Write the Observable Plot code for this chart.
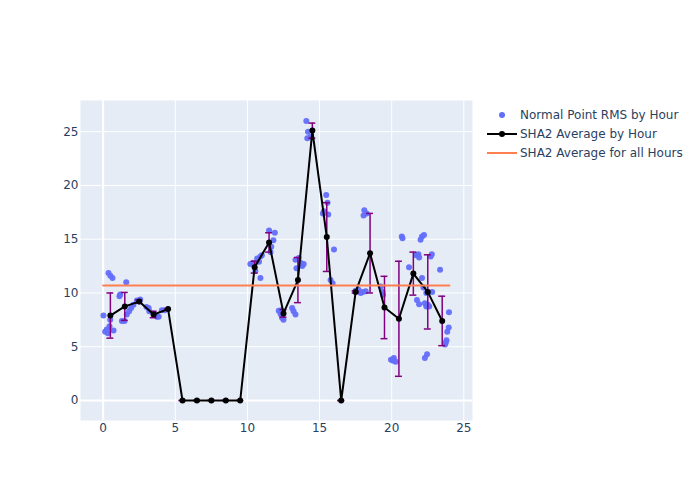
<!DOCTYPE html>
<html>
<head>
<meta charset="utf-8">
<script src="https://cdn.jsdelivr.net/npm/d3@7"></script>
<script src="https://cdn.jsdelivr.net/npm/@observablehq/plot@0.6"></script>
<style>
  html, body { margin: 0; padding: 0; background: white; }
  #wrap { position: relative; width: 700px; height: 500px; font-family: "DejaVu Sans", sans-serif; }
  #legend { position: absolute; left: 484px; top: 105px; }
</style>
</head>
<body>
<div id="wrap"><div id="chart"></div><div id="legend"></div></div>
<script>
// Individual normal point RMS values (hour of day, RMS)
const ptHour = [
  0.02,0.14,0.33,0.44,0.25,0.72,0.49,0.37,0.5,0.65,
  1.13,1.18,1.3,1.48,1.6,1.64,1.8,1.94,2.1,2.34,2.57,2.5,3.0,3.15,3.2,3.5,3.73,3.85,4.07,4.26,
  10.2,10.4,10.67,10.8,10.9,10.55,10.9,11.0,11.5,11.9,11.8,11.65,11.6,
  12.17,12.3,12.4,12.5,12.35,13.1,13.2,13.33,13.33,13.56,13.68,13.8,13.4,13.9,
  14.08,14.2,14.15,14.35,
  15.46,15.23,15.3,15.6,15.55,16.0,15.76,15.9,
  17.5,17.7,17.85,18.0,18.2,18.1,18.26,18.05,
  19.24,19.37,19.4,19.95,20.15,20.28,20.1,20.7,20.75,
  21.2,21.7,21.9,21.85,22.0,22.1,22.24,22.1,22.2,21.75,21.9,22.3,22.4,22.6,22.5,22.8,22.4,22.7,22.78,22.45,22.3,
  23.35,23.97,23.95,23.85,23.8,23.75,23.7
];
const ptRms = [
  7.9,6.4,6.25,6.9,6.6,6.5,7.5,11.85,11.6,11.4,
  9.7,9.85,7.4,7.4,11.0,8.0,8.3,8.6,8.9,9.3,9.4,9.2,8.7,8.6,8.3,8.0,7.8,7.8,8.4,8.4,
  12.7,12.8,13.2,12.9,13.4,12.05,11.4,13.5,15.8,15.6,14.9,14.3,13.8,
  8.35,8.05,7.7,7.5,8.4,8.6,8.3,8.0,13.1,13.25,12.8,12.5,12.3,12.7,
  26.0,25.0,24.4,24.5,
  19.1,17.4,17.6,17.3,18.4,14.05,11.2,10.9,
  10.2,10.3,10.0,10.1,10.15,17.7,17.4,17.2,
  10.6,10.1,9.8,3.8,3.95,3.6,3.7,15.25,15.1,
  12.4,13.5,13.3,13.6,14.95,15.25,15.4,11.4,10.5,9.35,8.95,9.05,8.75,8.75,8.9,10.1,10.0,13.4,13.6,4.3,3.95,
  12.15,8.2,6.8,6.4,5.6,5.4,5.2
];

// Hourly averages with standard deviation
const avgHour = [0.5,1.5,2.5,3.5,4.5,5.5,6.5,7.5,8.5,9.5,10.5,11.5,12.5,13.5,14.5,15.5,16.5,17.5,18.5,19.5,20.5,21.5,22.5,23.5];
const avgVal  = [7.9,8.75,9.2,8.0,8.5,0,0,0,0,0,12.4,14.7,8.1,11.2,25.1,15.2,0,10.1,13.7,8.65,7.6,11.8,10.1,7.4];
const avgStd  = [2.1,1.3,0.15,0.3,0,0,0,0,0,0,0.55,0.9,0.35,2.1,0.7,3.2,0,0.1,3.7,2.9,5.35,2.0,3.45,2.3];

// Overall average across all hours
const overallHours = [0, 24];
const overallValue = 10.7;

const xTicks = [0, 5, 10, 15, 20, 25];
const yTicks = [0, 5, 10, 15, 20, 25];

const points = ptHour.map((h, i) => ({hour: h, rms: ptRms[i]}));
const avgs = avgHour.map((h, i) => ({hour: h, val: avgVal[i], lo: avgVal[i] - avgStd[i], hi: avgVal[i] + avgStd[i]}));
const overall = overallHours.map(h => ({hour: h, val: overallValue}));

const blue = "#636EFA", purple = "#800080", orange = "#FF7F50", ink = "#2a3f5f";

const chart = Plot.plot({
  width: 700,
  height: 500,
  marginLeft: 80,
  marginRight: 228,
  marginTop: 100,
  marginBottom: 80,
  style: {fontFamily: "'DejaVu Sans', sans-serif", fontSize: "12px", color: ink, background: "white", overflow: "visible"},
  x: {domain: [-1.57, 25.6], label: null},
  y: {domain: [-1.86, 27.9], label: null},
  marks: [
    Plot.frame({fill: "#E5ECF6", stroke: null}),
    Plot.gridX(xTicks.filter(t => t !== 0), {stroke: "white", strokeOpacity: 1, strokeWidth: 1}),
    Plot.gridY(yTicks.filter(t => t !== 0), {stroke: "white", strokeOpacity: 1, strokeWidth: 1}),
    Plot.ruleX([0], {stroke: "white", strokeWidth: 2}),
    Plot.ruleY([0], {stroke: "white", strokeWidth: 2}),
    Plot.axisX(xTicks, {tickSize: 0, tickPadding: 3, fill: ink, label: null}),
    Plot.axisY(yTicks, {tickSize: 0, tickPadding: 2, fill: ink, label: null}),
    Plot.dot(points, {x: "hour", y: "rms", r: 3, fill: blue, fillOpacity: 0.95, stroke: null}),
    Plot.ruleX(avgs, {x: "hour", y1: "lo", y2: "hi", stroke: purple, strokeWidth: 1.5}),
    Plot.ruleY(avgs, {y: "hi", x1: d => d.hour - 0.24, x2: d => d.hour + 0.24, stroke: purple, strokeWidth: 1.5}),
    Plot.ruleY(avgs, {y: "lo", x1: d => d.hour - 0.24, x2: d => d.hour + 0.24, stroke: purple, strokeWidth: 1.5}),
    Plot.line(avgs, {x: "hour", y: "val", stroke: "black", strokeWidth: 2}),
    Plot.dot(avgs, {x: "hour", y: "val", r: 3, fill: "black", stroke: null}),
    Plot.line(overall, {x: "hour", y: "val", stroke: orange, strokeWidth: 2})
  ]
});
document.getElementById("chart").appendChild(chart);

// Legend
const legendItems = [
  {label: "Normal Point RMS by Hour", kind: "dot"},
  {label: "SHA2 Average by Hour", kind: "linedot"},
  {label: "SHA2 Average for all Hours", kind: "line"}
];
const lg = d3.select("#legend").append("svg").attr("width", 216).attr("height", 60)
  .style("font-family", "'DejaVu Sans', sans-serif").style("font-size", "12px");
legendItems.forEach((it, i) => {
  const g = lg.append("g").attr("transform", `translate(0,${10 + i * 19})`);
  if (it.kind === "dot") {
    g.append("circle").attr("cx", 18).attr("cy", 0).attr("r", 3).attr("fill", blue);
  } else if (it.kind === "linedot") {
    g.append("line").attr("x1", 3).attr("x2", 33).attr("y1", 0).attr("y2", 0).attr("stroke", "black").attr("stroke-width", 2);
    g.append("circle").attr("cx", 18).attr("cy", 0).attr("r", 3).attr("fill", "black");
  } else {
    g.append("line").attr("x1", 3).attr("x2", 33).attr("y1", 0).attr("y2", 0).attr("stroke", orange).attr("stroke-width", 2);
  }
  g.append("text").attr("x", 36).attr("y", 0).attr("dy", "0.35em").attr("fill", ink).text(it.label);
});
</script>
</body>
</html>
